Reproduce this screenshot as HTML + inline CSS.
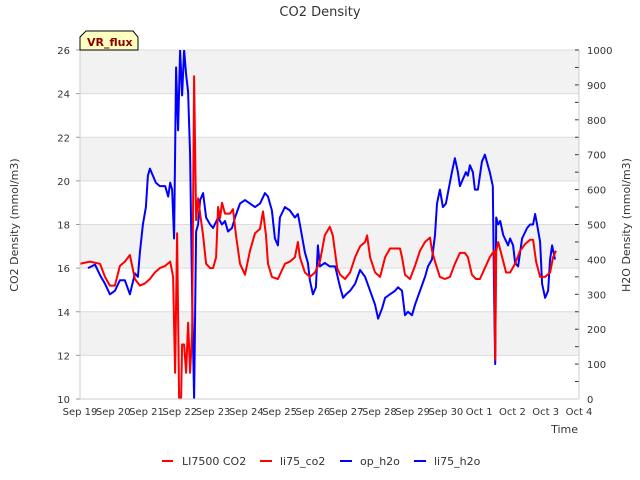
<!DOCTYPE html>
<html><head><meta charset="utf-8"><style>
body{margin:0;background:#fff;}
svg{display:block;font-family:"DejaVu Sans","Liberation Sans",sans-serif;}
</style></head><body>
<svg id="chart" width="640" height="480" xmlns="http://www.w3.org/2000/svg">
<defs><clipPath id="clip"><rect x="80" y="50" width="499" height="349"/></clipPath></defs>
<g id="bands"></g>
<g id="grid"></g>
<g id="series" clip-path="url(#clip)"></g>
<g id="axes"></g>
<text x="320" y="16" text-anchor="middle" font-size="13" fill="#333">CO2 Density</text>
<text x="18" y="225" text-anchor="middle" font-size="11" fill="#333" transform="rotate(-90 18 225)">CO2 Density (mmol/m3)</text>
<text x="630" y="225" text-anchor="middle" font-size="11" fill="#333" transform="rotate(-90 630 225)">H2O Density (mmol/m3)</text>
<text x="578" y="433" text-anchor="end" font-size="11" fill="#333">Time</text>
<g>
<path d="M80,50 L80,37 L86,31 L133,31 L138,37 L138,50 Z" fill="#ffffc0" stroke="#000" stroke-width="1"/>
<text x="87" y="46" font-size="11" font-weight="bold" fill="#8b0000">VR_flux</text>
</g>
<g id="legend">
<g><line x1="162" y1="461" x2="173" y2="461" stroke="#f00" stroke-width="2"/><text x="182" y="465" font-size="11" fill="#333">LI7500 CO2</text></g>
<g><line x1="260" y1="461" x2="272" y2="461" stroke="#f00" stroke-width="2"/><text x="280" y="465" font-size="11" fill="#333">li75_co2</text></g>
<g><line x1="340" y1="461" x2="352" y2="461" stroke="#00f" stroke-width="2"/><text x="360" y="465" font-size="11" fill="#333">op_h2o</text></g>
<g><line x1="414" y1="461" x2="426" y2="461" stroke="#00f" stroke-width="2"/><text x="434" y="465" font-size="11" fill="#333">li75_h2o</text></g>
</g>
</svg>
<script>
const xTickLabels=["Sep 19","Sep 20","Sep 21","Sep 22","Sep 23","Sep 24","Sep 25","Sep 26","Sep 27","Sep 28","Sep 29","Sep 30","Oct 1","Oct 2","Oct 3","Oct 4"];
const leftTicks=[10,12,14,16,18,20,22,24,26];
const rightTicks=[0,100,200,300,400,500,600,700,800,900,1000];
const co2Days=[0,0.30,0.60,0.75,0.90,1.05,1.20,1.35,1.50,1.65,1.80,1.95,2.10,2.25,2.40,2.56,2.71,2.80,2.86,2.92,2.98,3.04,3.07,3.13,3.19,3.25,3.31,3.37,3.43,3.49,3.55,3.61,3.70,3.79,3.91,4.00,4.09,4.15,4.21,4.27,4.36,4.51,4.60,4.69,4.81,4.96,5.11,5.26,5.41,5.50,5.59,5.65,5.77,5.95,6.16,6.31,6.46,6.55,6.61,6.76,6.91,7.06,7.21,7.36,7.51,7.60,7.73,7.82,7.97,8.12,8.27,8.42,8.57,8.63,8.72,8.87,9.02,9.17,9.32,9.47,9.62,9.68,9.77,9.92,10.07,10.22,10.37,10.52,10.58,10.67,10.82,10.97,11.12,11.27,11.42,11.57,11.66,11.78,11.90,12.02,12.17,12.32,12.45,12.48,12.51,12.57,12.69,12.81,12.93,13.08,13.23,13.38,13.53,13.62,13.71,13.83,13.98,14.13,14.22,14.31];
const co2Values=[16.2,16.3,16.2,15.6,15.2,15.2,16.1,16.3,16.6,15.5,15.2,15.3,15.5,15.8,16.0,16.1,16.3,15.6,11.2,17.6,10,10,12.5,12.5,11.2,13.5,11.2,13,24.8,18.2,19.2,18.5,17.5,16.2,16.0,16.0,16.5,18.8,18.3,19,18.5,18.5,18.7,17.5,16.2,15.7,16.8,17.6,17.8,18.6,17.5,16.2,15.6,15.5,16.2,16.3,16.5,17.2,16.5,15.8,15.6,15.8,16.3,17.5,17.9,17.5,16.0,15.7,15.5,15.8,16.5,17.0,17.2,17.5,16.5,15.8,15.6,16.5,16.9,16.9,16.9,16.5,15.7,15.5,16.1,16.8,17.2,17.4,16.8,16.3,15.6,15.5,15.6,16.2,16.7,16.7,16.5,15.7,15.5,15.5,16.0,16.5,16.8,11.8,16.8,17.2,16.5,15.8,15.8,16.2,16.8,17.1,17.3,17.3,16.3,15.6,15.6,15.8,16.5,16.8];
const h2oDays=[0.24,0.45,0.60,0.75,0.90,1.05,1.20,1.35,1.50,1.65,1.74,1.80,1.89,1.98,2.04,2.10,2.19,2.28,2.40,2.56,2.65,2.71,2.77,2.83,2.89,2.95,3.01,3.07,3.13,3.19,3.25,3.31,3.37,3.43,3.49,3.55,3.61,3.70,3.79,3.91,4.00,4.15,4.27,4.36,4.45,4.57,4.66,4.81,4.96,5.11,5.26,5.41,5.56,5.65,5.77,5.86,5.95,6.01,6.16,6.31,6.46,6.55,6.61,6.76,6.85,6.91,7.00,7.09,7.15,7.21,7.36,7.51,7.67,7.82,7.91,8.00,8.12,8.27,8.42,8.57,8.72,8.87,8.96,9.08,9.17,9.32,9.47,9.56,9.68,9.77,9.86,9.98,10.07,10.22,10.37,10.46,10.58,10.67,10.73,10.82,10.91,11.00,11.06,11.18,11.27,11.36,11.42,11.51,11.60,11.66,11.72,11.81,11.87,11.96,12.02,12.08,12.17,12.26,12.32,12.41,12.45,12.48,12.51,12.57,12.63,12.72,12.87,12.93,13.02,13.08,13.17,13.29,13.44,13.53,13.62,13.68,13.74,13.83,13.89,13.98,14.07,14.13,14.19,14.28];
const h2oValues=[375,385,355,330,300,310,340,340,300,360,350,420,500,550,640,660,640,620,610,610,580,620,600,460,950,770,1000,870,1000,930,880,700,300,0,480,500,570,590,520,500,490,520,500,510,480,490,520,560,570,560,550,560,590,580,540,460,440,520,550,540,520,530,500,420,390,340,300,320,440,380,390,380,380,320,290,300,310,330,370,350,310,270,230,260,290,300,310,320,310,240,250,240,270,310,350,380,400,470,560,600,550,560,590,650,690,650,610,630,650,640,670,650,600,600,640,680,700,670,650,610,280,100,520,500,510,470,440,460,440,390,380,460,490,500,500,530,500,450,330,290,310,400,440,400];

const NS="http://www.w3.org/2000/svg";
const L=80,R=579,T=50,B=399;
const xS=d=>L+(R-L)*d/15;
const yL=v=>B-(B-T)*(v-10)/16;
const yR=v=>B-(B-T)*v/1000;
function mk(tag,attrs,parent){const e=document.createElementNS(NS,tag);for(const k in attrs)e.setAttribute(k,attrs[k]);parent.appendChild(e);return e;}
const bands=document.getElementById('bands'),grid=document.getElementById('grid'),axes=document.getElementById('axes'),series=document.getElementById('series');
[[24,26],[20,22],[16,18],[12,14]].forEach(b=>{const r=mk('rect',{x:L,y:yL(b[1]),width:R-L,height:yL(b[0])-yL(b[1]),fill:'#f2f2f2'},bands);

});
leftTicks.forEach(v=>{const g=mk('line',{x1:L,x2:R,y1:yL(v),y2:yL(v),stroke:'#dcdcdc','stroke-width':1},grid);


const t=mk('text',{x:L-10,y:yL(v)+4,'text-anchor':'end','font-size':10,fill:'#333'},axes);t.textContent=v;


mk('line',{x1:L-4,x2:L,y1:yL(v),y2:yL(v),stroke:'#999'},axes);});
rightTicks.forEach(v=>{const t=mk('text',{x:R+8,y:yR(v)+4,'font-size':10,fill:'#333'},axes);t.textContent=v;


mk('line',{x1:R-4,x2:R,y1:yR(v),y2:yR(v),stroke:'#333'},axes);
if(v<1000)mk('line',{x1:R-4,x2:R,y1:yR(v+50),y2:yR(v+50),stroke:'#333'},axes);});
xTickLabels.forEach((s,i)=>{const t=mk('text',{x:xS(i),y:415,'text-anchor':'middle','font-size':10,fill:'#333'},axes);t.textContent=s;

});
mk('line',{x1:L,x2:R,y1:B,y2:B,stroke:'#ccc'},axes);
mk('line',{x1:L,x2:L,y1:T,y2:B,stroke:'#ccc'},axes);
mk('line',{x1:R,x2:R,y1:T,y2:B,stroke:'#ccc'},axes);
const h=mk('path',{d:h2oDays.map((d,i)=>(i?'L':'M')+xS(d).toFixed(1)+','+yR(h2oValues[i]).toFixed(1)).join(''),fill:'none',stroke:'#0000ff','stroke-width':2,'stroke-linejoin':'round'},series);


const c=mk('path',{d:co2Days.map((d,i)=>(i?'L':'M')+xS(d).toFixed(1)+','+yL(co2Values[i]).toFixed(1)).join(''),fill:'none',stroke:'#ff0000','stroke-width':2,'stroke-linejoin':'round'},series);


</script>
</body></html>
